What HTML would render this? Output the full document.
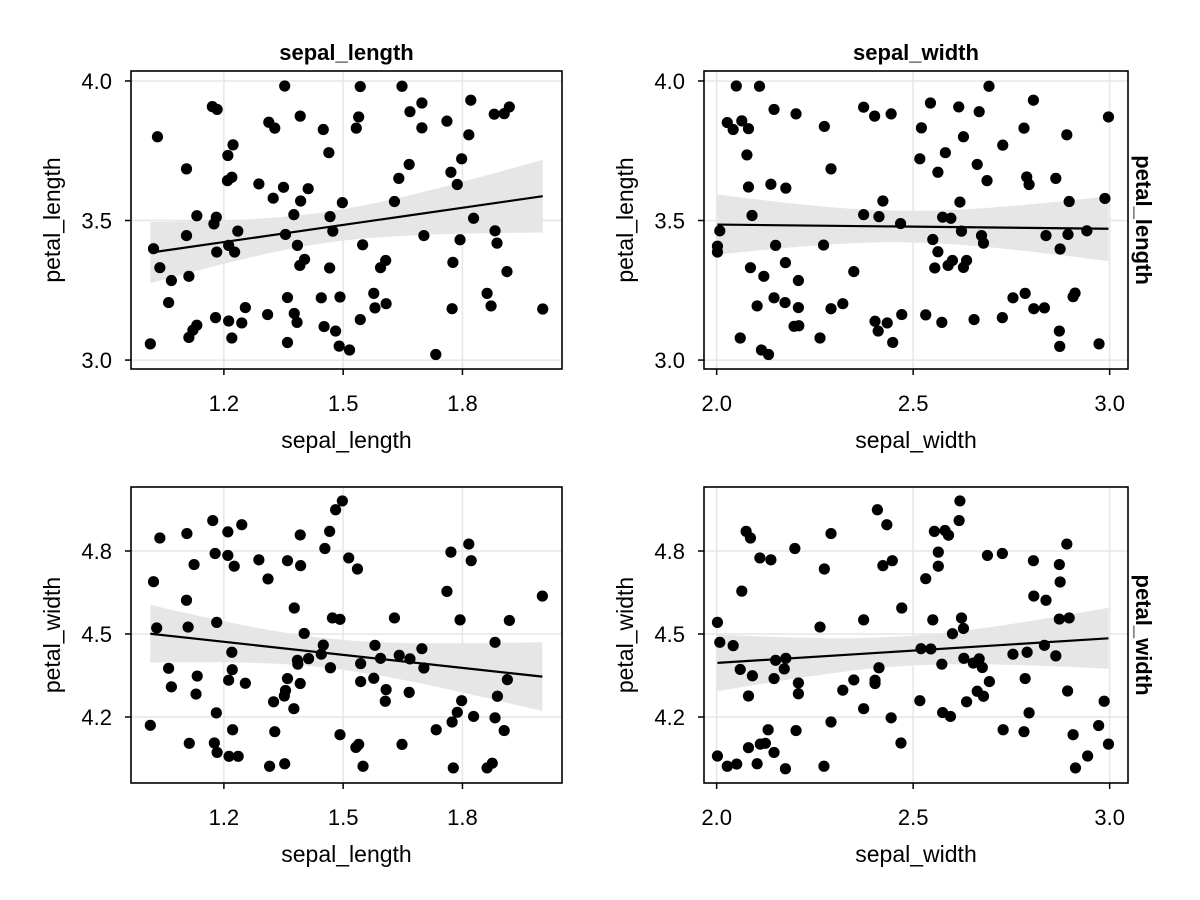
<!DOCTYPE html>
<html><head><meta charset="utf-8">
<style>
html,body{margin:0;padding:0;background:#fff;}
svg{display:block;font-family:"Liberation Sans",Arial,sans-serif;}
</style></head>
<body>
<svg id="chart" width="1200" height="900" viewBox="0 0 1200 900" xmlns="http://www.w3.org/2000/svg">
<g id="root"></g>
</svg>
<script>
// ---- Data ----
const p1x=[1.353,1.543,1.648,1.171,1.183,1.698,1.821,1.918,1.905,1.880,1.668,1.392,1.539,1.313,1.328,1.450,1.533,1.761,1.698,1.816,1.033,1.223,1.210,1.464,1.798,1.106,1.666,1.209,1.220,1.640,1.771,1.787,1.288,1.350,1.412,1.324,1.393,1.498,1.629,1.132,1.181,1.175,1.376,1.467,1.828,1.106,1.235,1.355,1.474,1.703,1.882,1.023,1.212,1.227,1.182,1.385,1.549,1.794,1.887,1.039,1.068,1.112,1.403,1.391,1.466,1.607,1.594,1.776,1.912,1.061,1.360,1.445,1.492,1.577,1.862,1.872,1.254,1.310,1.377,1.384,1.179,1.212,1.245,1.132,1.122,1.112,1.220,1.452,1.481,1.543,1.580,1.608,1.774,2.002,1.015,1.360,1.490,1.516,1.733];
const p1y=[3.982,3.980,3.981,3.908,3.898,3.921,3.931,3.907,3.883,3.881,3.890,3.874,3.871,3.852,3.831,3.826,3.831,3.856,3.832,3.807,3.800,3.771,3.733,3.743,3.721,3.685,3.701,3.643,3.655,3.651,3.673,3.629,3.631,3.619,3.614,3.580,3.570,3.564,3.568,3.517,3.512,3.488,3.521,3.514,3.508,3.446,3.462,3.450,3.462,3.446,3.463,3.399,3.411,3.387,3.387,3.411,3.413,3.431,3.419,3.331,3.285,3.300,3.361,3.339,3.330,3.357,3.331,3.350,3.317,3.206,3.224,3.223,3.226,3.239,3.239,3.194,3.188,3.163,3.167,3.135,3.152,3.140,3.133,3.125,3.107,3.081,3.079,3.120,3.104,3.145,3.187,3.202,3.184,3.183,3.058,3.063,3.050,3.036,3.020];
const p2x=[2.050,2.109,2.693,2.544,2.806,2.146,2.202,2.374,2.402,2.444,2.616,2.668,2.997,2.027,2.064,2.042,2.081,2.274,2.521,2.782,2.628,2.891,2.728,2.077,2.582,2.517,2.663,2.291,2.563,2.688,2.789,2.795,2.863,2.081,2.138,2.176,2.423,2.619,2.897,2.988,2.090,2.374,2.413,2.575,2.596,2.468,2.008,2.623,2.674,2.679,2.838,2.894,2.942,2.002,2.002,2.150,2.272,2.550,2.563,2.874,2.086,2.120,2.175,2.208,2.349,2.555,2.589,2.600,2.628,2.636,2.103,2.146,2.174,2.208,2.291,2.321,2.197,2.209,2.403,2.434,2.411,2.471,2.532,2.573,2.655,2.727,2.754,2.785,2.807,2.834,2.907,2.912,2.872,2.873,2.973,2.060,2.263,2.448,2.114,2.132];
const p2y=[3.982,3.981,3.981,3.921,3.931,3.898,3.882,3.906,3.874,3.882,3.907,3.890,3.871,3.851,3.857,3.826,3.829,3.837,3.832,3.831,3.800,3.807,3.770,3.735,3.743,3.721,3.701,3.685,3.673,3.643,3.656,3.629,3.651,3.620,3.630,3.616,3.570,3.566,3.568,3.579,3.518,3.521,3.514,3.512,3.508,3.489,3.463,3.462,3.446,3.419,3.446,3.450,3.463,3.408,3.387,3.411,3.412,3.432,3.388,3.398,3.331,3.300,3.349,3.285,3.317,3.330,3.339,3.357,3.332,3.357,3.194,3.223,3.206,3.188,3.184,3.202,3.121,3.123,3.139,3.133,3.104,3.163,3.162,3.135,3.145,3.152,3.223,3.239,3.184,3.187,3.227,3.240,3.104,3.049,3.058,3.079,3.079,3.063,3.036,3.020];
const p3x=[1.498,1.481,1.172,1.245,1.039,1.107,1.210,1.392,1.466,1.454,1.178,1.210,1.226,1.125,1.288,1.360,1.393,1.514,1.536,1.771,1.816,1.822,1.023,1.311,1.761,2.001,1.106,1.377,1.473,1.492,1.629,1.794,1.918,1.031,1.110,1.182,1.402,1.882,1.450,1.445,1.220,1.580,1.698,1.641,1.594,1.668,1.385,1.386,1.413,1.544,1.703,1.468,1.061,1.221,1.133,1.212,1.254,1.360,1.392,1.068,1.130,1.355,1.352,1.325,1.376,1.544,1.577,1.608,1.606,1.666,1.913,1.888,1.798,1.787,1.774,1.828,1.882,1.905,1.734,1.181,1.015,1.222,1.328,1.113,1.176,1.183,1.213,1.236,1.315,1.353,1.492,1.532,1.539,1.550,1.648,1.777,1.862,1.875];
const p3y=[4.981,4.949,4.910,4.895,4.847,4.863,4.869,4.858,4.871,4.809,4.791,4.784,4.745,4.751,4.768,4.765,4.747,4.775,4.735,4.796,4.825,4.765,4.689,4.699,4.654,4.637,4.622,4.594,4.558,4.553,4.558,4.551,4.549,4.522,4.525,4.542,4.502,4.470,4.460,4.427,4.434,4.459,4.447,4.423,4.412,4.410,4.405,4.391,4.411,4.393,4.377,4.378,4.376,4.371,4.348,4.333,4.322,4.339,4.321,4.309,4.283,4.296,4.276,4.255,4.230,4.328,4.340,4.299,4.257,4.289,4.335,4.275,4.259,4.217,4.182,4.202,4.197,4.151,4.154,4.215,4.170,4.154,4.147,4.105,4.106,4.072,4.058,4.058,4.022,4.031,4.136,4.090,4.101,4.022,4.101,4.016,4.016,4.033];
const p4x=[2.619,2.409,2.617,2.433,2.075,2.086,2.291,2.554,2.581,2.590,2.891,2.199,2.564,2.110,2.138,2.689,2.727,2.806,2.872,2.423,2.447,2.564,2.274,2.532,2.874,2.064,2.807,2.838,2.471,2.002,2.263,2.374,2.550,2.623,2.628,2.600,2.872,2.897,2.008,2.042,2.520,2.545,2.834,2.754,2.790,2.863,2.150,2.176,2.172,2.629,2.668,2.653,2.676,2.573,2.413,2.060,2.091,2.146,2.208,2.208,2.081,2.321,2.349,2.403,2.403,2.694,2.785,2.663,2.679,2.636,2.517,2.893,2.986,2.374,2.575,2.595,2.795,2.444,2.291,2.131,2.202,2.729,2.782,2.972,2.907,2.081,2.111,2.124,2.146,2.002,2.027,2.051,2.103,2.175,2.273,2.469,2.944,2.997,2.913];
const p4y=[4.981,4.949,4.910,4.895,4.871,4.847,4.863,4.871,4.874,4.857,4.825,4.809,4.796,4.775,4.768,4.784,4.791,4.765,4.751,4.747,4.765,4.745,4.735,4.700,4.688,4.655,4.637,4.622,4.594,4.542,4.525,4.551,4.551,4.558,4.520,4.501,4.554,4.558,4.470,4.458,4.447,4.446,4.459,4.427,4.434,4.421,4.405,4.412,4.374,4.412,4.410,4.395,4.379,4.391,4.378,4.372,4.349,4.339,4.323,4.284,4.276,4.297,4.334,4.333,4.321,4.328,4.339,4.293,4.275,4.255,4.259,4.294,4.257,4.230,4.216,4.202,4.215,4.197,4.182,4.154,4.151,4.154,4.147,4.169,4.136,4.089,4.102,4.105,4.072,4.059,4.022,4.030,4.031,4.013,4.022,4.106,4.059,4.102,4.016];
const xTicksL=[1.2,1.5,1.8];
const xTicksR=[2.0,2.5,3.0];
const yTicksTop=[3.0,3.5,4.0];
const yTicksBot=[4.2,4.5,4.8];
const colTitles=["sepal_length","sepal_width"];
const rowTitles=["petal_length","petal_width"];

const NS="http://www.w3.org/2000/svg";
const root=document.getElementById('root');
function mk(tag,attrs,parent){const e=document.createElementNS(NS,tag);for(const k in attrs)e.setAttribute(k,attrs[k]);(parent||root).appendChild(e);return e;}

const panels=[
 {name:'sepal-length-vs-petal-length',L:131,R:562,T:71,B:369,xd:[0.9664,2.0504],yd:[2.968,4.0357],xs:p1x,ys:p1y,xt:xTicksL,yt:yTicksTop,xl:colTitles[0],yl:rowTitles[0]},
 {name:'sepal-width-vs-petal-length',L:704,R:1128,T:71,B:369,xd:[1.9678,3.0467],yd:[2.968,4.0357],xs:p2x,ys:p2y,xt:xTicksR,yt:yTicksTop,xl:colTitles[1],yl:rowTitles[0]},
 {name:'sepal-length-vs-petal-width',L:131,R:562,T:487,B:783,xd:[0.9664,2.0504],yd:[3.9615,5.0313],xs:p3x,ys:p3y,xt:xTicksL,yt:yTicksBot,xl:colTitles[0],yl:rowTitles[1]},
 {name:'sepal-width-vs-petal-width',L:704,R:1128,T:487,B:783,xd:[1.9678,3.0467],yd:[3.9615,5.0313],xs:p4x,ys:p4y,xt:xTicksR,yt:yTicksBot,xl:colTitles[1],yl:rowTitles[1]}
];

panels.forEach((p,pi)=>{
  const g=mk('g',{});
  
  
  const sx=v=>p.L+(v-p.xd[0])/(p.xd[1]-p.xd[0])*(p.R-p.L);
  const sy=v=>p.B-(v-p.yd[0])/(p.yd[1]-p.yd[0])*(p.B-p.T);
  p.xt.forEach(t=>{const l=mk('line',{x1:sx(t),x2:sx(t),y1:p.T,y2:p.B,stroke:'#e6e6e6','stroke-width':1.5},g);
    });
  p.yt.forEach(t=>{const l=mk('line',{x1:p.L,x2:p.R,y1:sy(t),y2:sy(t),stroke:'#e6e6e6','stroke-width':1.5},g);
    });
  const n=p.xs.length;let mx=0,my=0;for(let i=0;i<n;i++){mx+=p.xs[i];my+=p.ys[i];}mx/=n;my/=n;
  let sxx=0,sxy=0;for(let i=0;i<n;i++){sxx+=(p.xs[i]-mx)**2;sxy+=(p.xs[i]-mx)*(p.ys[i]-my);}
  const b=sxy/sxx,a=my-b*mx;let sse=0;for(let i=0;i<n;i++){sse+=(p.ys[i]-a-b*p.xs[i])**2;}
  const s=Math.sqrt(sse/(n-2));const tq=1.984;
  const xmin=Math.min(...p.xs),xmax=Math.max(...p.xs);
  const up=[],lo=[];
  for(let k=0;k<=40;k++){const xv=xmin+(xmax-xmin)*k/40;const yv=a+b*xv;const se=s*Math.sqrt(1/n+(xv-mx)**2/sxx);
    up.push(sx(xv).toFixed(1)+','+sy(yv+tq*se).toFixed(1));lo.unshift(sx(xv).toFixed(1)+','+sy(yv-tq*se).toFixed(1));}
  const band=mk('polygon',{points:up.concat(lo).join(' '),fill:'#e6e6e6'},g);
  
  for(let i=0;i<n;i++){const c=mk('circle',{cx:sx(p.xs[i]),cy:sy(p.ys[i]),r:5.6,fill:'#000'},g);
    }
  const ln=mk('line',{x1:sx(xmin),y1:sy(a+b*xmin),x2:sx(xmax),y2:sy(a+b*xmax),stroke:'#000','stroke-width':2.2},g);
  
  const fr=mk('rect',{x:p.L,y:p.T,width:p.R-p.L,height:p.B-p.T,fill:'none',stroke:'#000','stroke-width':1.6},g);
  
  p.xt.forEach(t=>{mk('line',{x1:sx(t),x2:sx(t),y1:p.B,y2:p.B+6,stroke:'#000','stroke-width':1.5},g);
    const tx=mk('text',{x:sx(t),y:p.B+42,'text-anchor':'middle','font-size':22,fill:'#000'},g);tx.textContent=t.toFixed(1);
    });
  p.yt.forEach(t=>{mk('line',{x1:p.L-6,x2:p.L,y1:sy(t),y2:sy(t),stroke:'#000','stroke-width':1.5},g);
    const tx=mk('text',{x:p.L-19,y:sy(t)+8,'text-anchor':'end','font-size':22,fill:'#000'},g);tx.textContent=t.toFixed(1);
    });
  const cx=(p.L+p.R)/2,cy=(p.T+p.B)/2;
  const xl=mk('text',{x:cx,y:p.B+79,'text-anchor':'middle','font-size':23,fill:'#000'},g);xl.textContent=p.xl;
  
  const yl=mk('text',{x:0,y:0,'text-anchor':'middle','font-size':23,fill:'#000',transform:`translate(${p.L-71},${cy}) rotate(-90)`},g);yl.textContent=p.yl;
  
  if(pi<2){const t=mk('text',{x:cx,y:p.T-11,'text-anchor':'middle','font-size':22,'font-weight':'bold',fill:'#000'},g);t.textContent=p.xl;
    }
  if(pi%2===1){const t=mk('text',{x:0,y:0,'text-anchor':'middle','font-size':22,'font-weight':'bold',fill:'#000',transform:`translate(${p.R+8},${cy}) rotate(90)`},g);t.textContent=p.yl;
    }
});
</script>
</body></html>
